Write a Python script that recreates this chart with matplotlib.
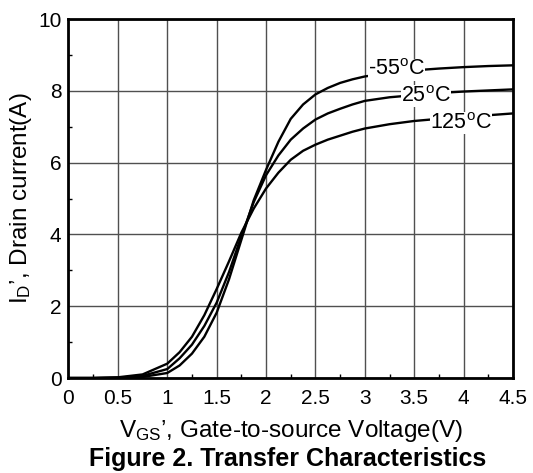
import matplotlib
matplotlib.use("Agg")
import matplotlib.pyplot as plt
from matplotlib.ticker import MultipleLocator, FuncFormatter

# ==========================
# DATA
# ==========================

vgs = [0.0, 0.25, 0.5, 0.75, 1.0, 1.125, 1.25, 1.375, 1.5, 1.625, 1.75,
       1.875, 2.0, 2.125, 2.25, 2.375, 2.5, 2.625, 2.75, 2.875, 3.0,
       3.25, 3.5, 3.75, 4.0, 4.25, 4.5]

id_m55 = [0.0, 0.0, 0.005, 0.03, 0.14, 0.35, 0.68, 1.15, 1.82, 2.75, 3.85,
          4.95, 5.8, 6.58, 7.22, 7.62, 7.9, 8.08, 8.22, 8.32, 8.4,
          8.5, 8.57, 8.62, 8.66, 8.69, 8.71]

id_25 = [0.0, 0.0, 0.01, 0.06, 0.25, 0.55, 0.93, 1.45, 2.1, 2.95, 3.95,
         4.9, 5.65, 6.2, 6.64, 6.95, 7.2, 7.37, 7.5, 7.62, 7.72,
         7.82, 7.88, 7.94, 7.98, 8.01, 8.04]

id_125 = [0.0, 0.0, 0.02, 0.1, 0.4, 0.72, 1.15, 1.75, 2.48, 3.25, 4.05,
          4.72, 5.28, 5.72, 6.08, 6.33, 6.5, 6.64, 6.75, 6.86, 6.95,
          7.07, 7.16, 7.22, 7.27, 7.32, 7.37]

labels = ["-55$^{\\rm o}$C", "25$^{\\rm o}$C", "125$^{\\rm o}$C"]
label_x = [3.32, 3.62, 3.97]
label_y = [8.58, 7.85, 7.1]

# ==========================
# STYLE
# ==========================

plt.rcParams["font.family"] = ["Liberation Sans", "DejaVu Sans"]
plt.rcParams["mathtext.fontset"] = "custom"
plt.rcParams["mathtext.rm"] = "Liberation Sans"
plt.rcParams["mathtext.it"] = "Liberation Sans"

fig = plt.figure(figsize=(5.33, 4.73), dpi=100)
ax = fig.add_axes([0.1285, 0.2008, 0.834, 0.759])

ax.grid(True, which="major", color="#505050", linewidth=1.0)
ax.set_axisbelow(True)

for series in [id_m55, id_25, id_125]:
    ax.plot(vgs, series, color="black", linewidth=1.7, zorder=3)

for txt, lx, ly in zip(labels, label_x, label_y):
    ax.text(lx, ly, txt, fontsize=15.5, ha="center", va="center", zorder=4,
            bbox=dict(facecolor="white", edgecolor="none", pad=0.1))

ax.set_xlim(0, 4.5)
ax.set_ylim(0, 10)
ax.xaxis.set_major_locator(MultipleLocator(0.5))
ax.yaxis.set_major_locator(MultipleLocator(2))
ax.xaxis.set_minor_locator(MultipleLocator(0.25))
ax.yaxis.set_minor_locator(MultipleLocator(1))
ax.xaxis.set_major_formatter(FuncFormatter(lambda v, p: f"{v:g}"))

ax.tick_params(which="both", direction="in", labelsize=15, width=1)
ax.tick_params(which="major", length=0)
ax.tick_params(axis="x", which="major", pad=8)
ax.tick_params(axis="y", which="major", pad=5)
ax.tick_params(which="minor", length=3)

for spine in ax.spines.values():
    spine.set_linewidth(2.0)

ax.set_xlabel("V$_{\\rm GS}$’, Gate-to-source Voltage(V)", fontsize=17.5, labelpad=7)
ax.set_ylabel("I$_{\\rm D}$’, Drain current(A)", fontsize=17.5, labelpad=3)

fig.text(0.54, 0.03, "Figure 2. Transfer Characteristics",
         fontsize=18, fontweight="bold", ha="center", va="center")

fig.savefig("out.png", dpi=100)
